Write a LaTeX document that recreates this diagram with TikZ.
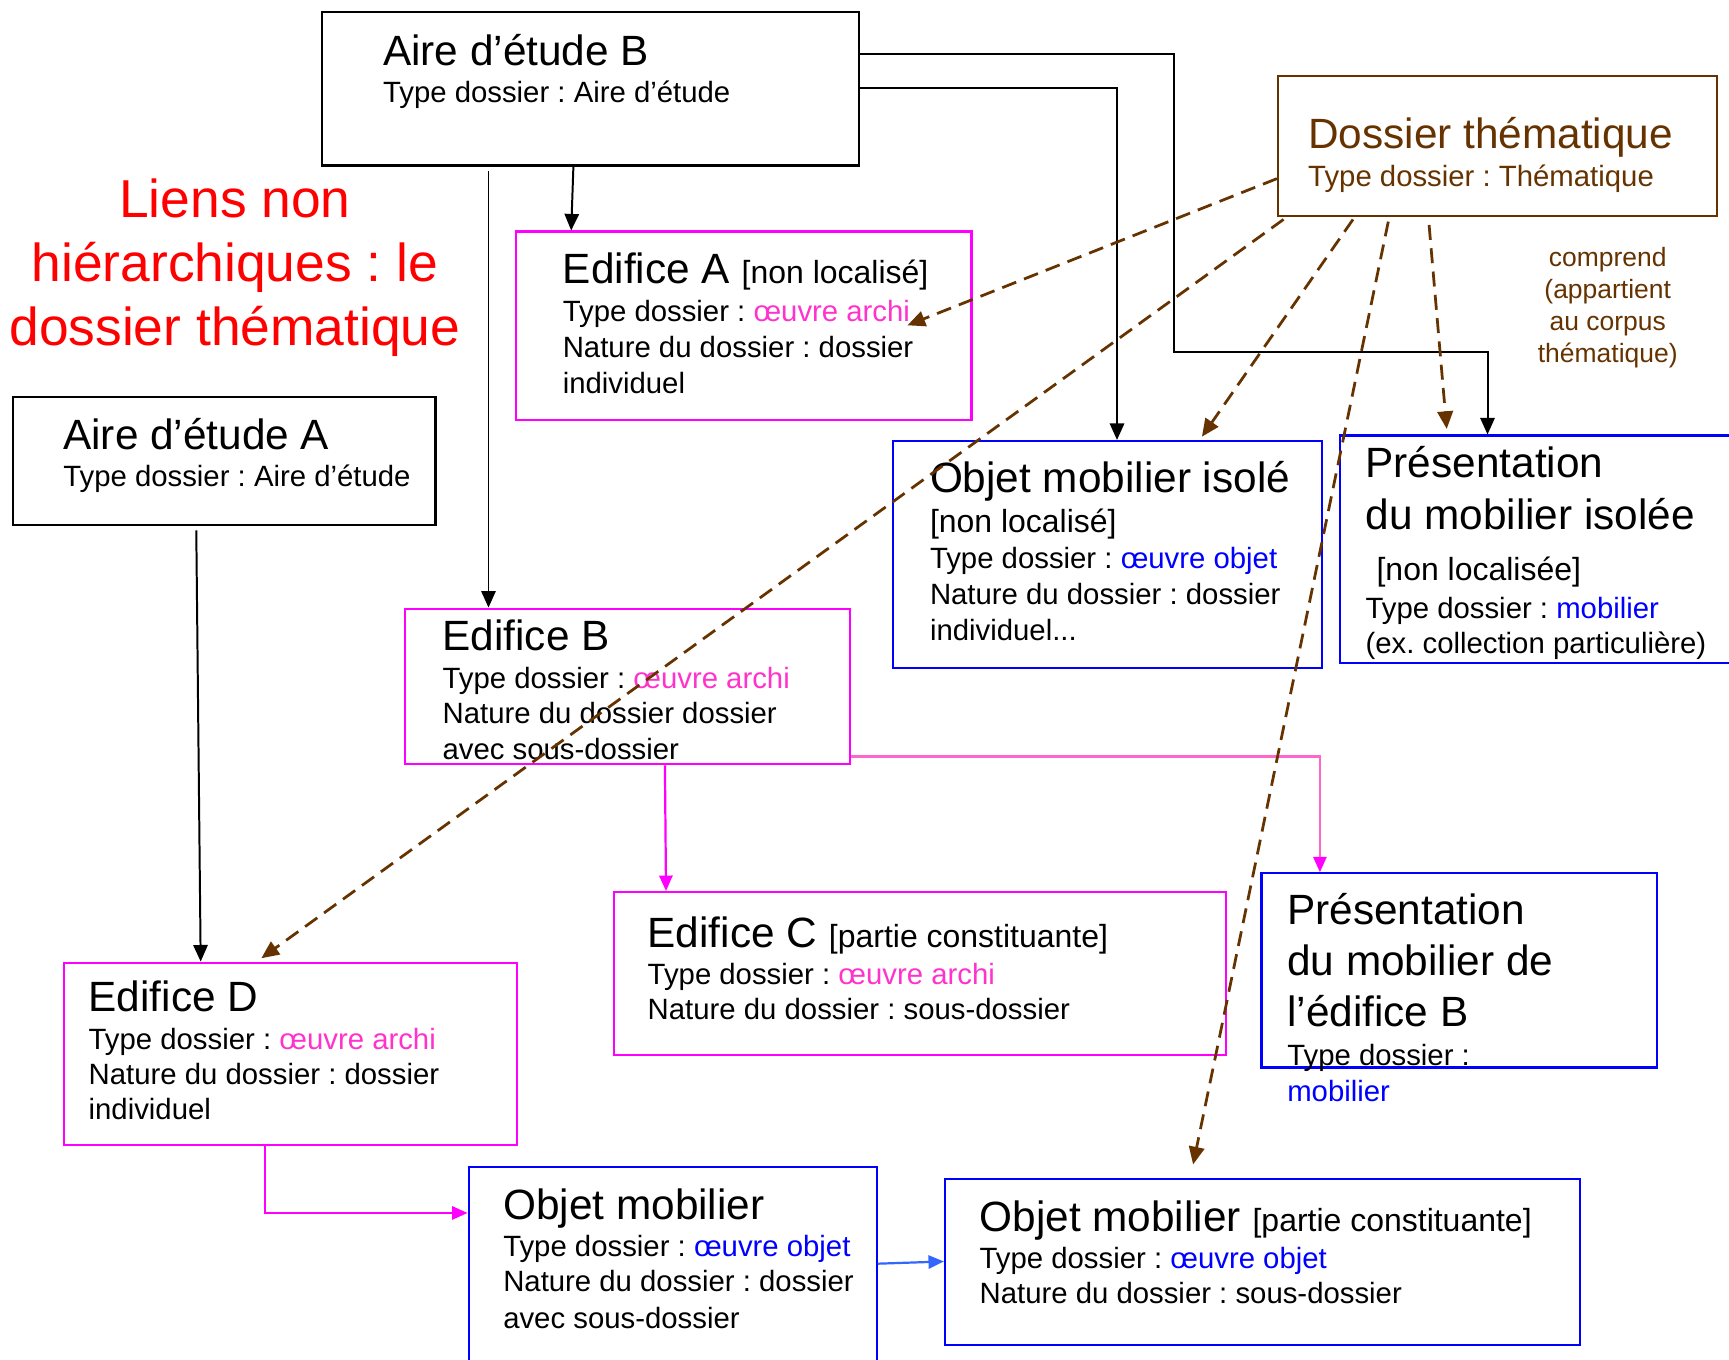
\documentclass[tikz,border=0pt]{standalone}
\usepackage{fontspec}
\setmainfont{Liberation Sans}
\usetikzlibrary{arrows.meta,calc,fit}
\definecolor{brun}{RGB}{102,51,0}
\definecolor{mag}{RGB}{255,0,255}
\definecolor{rose}{RGB}{255,51,204}
\definecolor{roseclair}{RGB}{255,102,204}
\definecolor{bleu}{RGB}{0,0,255}
\definecolor{bleuclair}{RGB}{51,102,255}
\definecolor{rouge}{RGB}{255,0,0}
\frenchspacing

\begin{document}
\begin{tikzpicture}[x=0.5pt,y=-0.5pt,
  cadre/.style={draw,line width=1pt,inner sep=0pt},
  titre/.style={anchor=base west,inner sep=0pt,font=\fontsize{19.2}{23}\selectfont},
  ligne/.style={anchor=base west,inner sep=0pt,font=\fontsize{13.3}{16}\selectfont},
  crochet/.style={anchor=base west,inner sep=0pt,font=\fontsize{14.5}{17}\selectfont},
  gros/.style={anchor=base,inner sep=0pt,rouge,font=\fontsize{24.2}{29}\selectfont},
  note/.style={anchor=base,inner sep=0pt,brun,font=\fontsize{12}{14.5}\selectfont},
  lien/.style={line width=0.9pt,-{Triangle[length=7.5pt,width=6.5pt]}},
  lienrose/.style={mag,line width=1pt,-{Triangle[length=7pt,width=6pt,color=mag]}},
  thm/.style={brun,line width=1.25pt,dash pattern=on 6.8pt off 3.8pt,-{Triangle[length=8pt,width=7pt]}}]
\useasboundingbox (0,0) rectangle (1568,1233);
\fill[white] (0,0) rectangle (1568,1233);
\clip (0,0) rectangle (1568,1233);

% cadres
\node[cadre, fit={(292,11) (779,150)}] (aireB) {};
\node[cadre, fit={(12,360) (395,476)}] (aireA) {};
\node[cadre, draw=brun, fit={(1159,69) (1557,196)}] (dossT) {};
\node[cadre, draw=mag, fit={(468,210) (881,381)}] (edA) {};
\node[cadre, draw=mag, fit={(367,552) (771,693)}] (edB) {};
\node[cadre, draw=bleu, fit={(810,400) (1199,606)}] (objIso) {};
\node[cadre, draw=bleu, fit={(1215,395) (1600,601)}] (presIso) {};
\node[cadre, draw=mag, fit={(557,809) (1112,957)}] (edC) {};
\node[cadre, draw=bleu, fit={(1144,792) (1503,968)}] (presB) {};
\node[cadre, draw=mag, fit={(58,873) (469,1038)}] (edD) {};
\node[cadre, draw=bleu, fit={(425,1058) (795,1260)}] (objMob) {};
\node[cadre, draw=bleu, fit={(857,1069) (1433,1220)}] (objPart) {};

% titre rouge
\node[gros] (tit1) at (213,197) {Liens non};
\node[gros] (tit2) at (213,255) {hiérarchiques : le};
\node[gros] (tit3) at (213,313) {dossier thématique};

% textes
\node[titre] (aB1) at (347,59) {Aire d’étude B};
\node[ligne] (aB2) at (347,92.5) {Type dossier : Aire d’étude};

\node[titre] (aA1) at (57,408) {Aire d’étude A};
\node[ligne] (aA2) at (57,441.5) {Type dossier : Aire d’étude};

\node[titre,brun] (dT1) at (1186,135) {Dossier thématique};
\node[ligne,brun] (dT2) at (1186,169.5) {Type dossier : Thématique};

\node[note] (c1) at (1458,242) {comprend};
\node[note] (c2) at (1458,271) {(appartient};
\node[note] (c3) at (1458,300) {au corpus};
\node[note] (c4) at (1458,329) {thématique)};

\node[titre] (eA1) at (510,257) {Edifice A {\fontsize{14.5}{17}\selectfont[non localisé]}};
\node[ligne] (eA2) at (510,291.5) {Type dossier : {\color{rose}œuvre archi}};
\node[ligne] (eA3) at (510,324.5) {Nature du dossier : dossier};
\node[ligne] (eA4) at (510,356.5) {individuel};

\node[titre] (eB1) at (401,590) {Edifice B};
\node[ligne] (eB2) at (401,624.5) {Type dossier : {\color{rose}œuvre archi}};
\node[ligne] (eB3) at (401,656.5) {Nature du dossier dossier};
\node[ligne] (eB4) at (401,688.5) {avec sous-dossier};

\node[titre] (oI1) at (843,447) {Objet mobilier isolé};
\node[crochet] (oI2) at (843,483) {[non localisé]};
\node[ligne] (oI3) at (843,515.5) {Type dossier : {\color{bleu}œuvre objet}};
\node[ligne] (oI4) at (843,548.5) {Nature du dossier : dossier};
\node[ligne] (oI5) at (843,580.5) {individuel...};

\node[titre] (pI1) at (1238,433) {Présentation};
\node[titre] (pI2) at (1238,480) {du mobilier isolée};
\node[crochet] (pI3) at (1248,526) {[non localisée]};
\node[ligne] (pI4) at (1238,560.5) {Type dossier : {\color{bleu}mobilier}};
\node[ligne] (pI5) at (1238,592.5) {(ex. collection particulière)};

\node[titre] (eC1) at (587,859) {Edifice C {\fontsize{14.5}{17}\selectfont[partie constituante]}};
\node[ligne] (eC2) at (587,892.5) {Type dossier : {\color{rose}œuvre archi}};
\node[ligne] (eC3) at (587,924.5) {Nature du dossier : sous-dossier};

\node[titre] (pB1) at (1167,838) {Présentation};
\node[titre] (pB2) at (1167,885) {du mobilier de};
\node[titre] (pB3) at (1167,931) {l’édifice B};
\node[ligne] (pB4) at (1167,966.5) {Type dossier :};
\node[ligne,bleu] (pB5) at (1167,998.5) {mobilier};

\node[titre] (eD1) at (80,917) {Edifice D};
\node[ligne] (eD2) at (80,951.5) {Type dossier : {\color{rose}œuvre archi}};
\node[ligne] (eD3) at (80,983.5) {Nature du dossier : dossier};
\node[ligne] (eD4) at (80,1015.5) {individuel};

\node[titre] (oM1) at (456,1106) {Objet mobilier};
\node[ligne] (oM2) at (456,1139.5) {Type dossier : {\color{bleu}œuvre objet}};
\node[ligne] (oM3) at (456,1171.5) {Nature du dossier : dossier};
\node[ligne] (oM4) at (456,1204.5) {avec sous-dossier};

\node[titre] (oP1) at (888,1117) {Objet mobilier {\fontsize{14.5}{17}\selectfont[partie constituante]}};
\node[ligne] (oP2) at (888,1150.5) {Type dossier : {\color{bleu}œuvre objet}};
\node[ligne] (oP3) at (888,1182.5) {Nature du dossier : sous-dossier};

% liens hierarchiques
\draw[lien] ($(aireB.south west)+(229,0)$) -- ($(edA.north west)+(51,0)$);
\draw[lien] ($(aireB.south west)+(152,4)$) -- ($(edB.north west)+(77,0)$);
\draw[lien] ($(aireB.north east)+(0,70)$) -| ($(objIso.north west)+(204,0)$);
\draw[lien] ($(aireB.north east)+(0,39)$) -| +(285,270) -| ($(presIso.north west)+(135,0)$);
\draw[lien] ($(aireA.south west)+(167,4)$) -- ($(edD.north west)+(125,0)$);
\draw[lienrose] ($(edB.south west)+(237,0)$) -- ($(edC.north west)+(48,0)$);
\draw[lienrose,roseclair] ($(edB.south east)+(0,-8)$) -| ($(presB.north west)+(54,0)$);
\draw[lienrose] ($(edD.south west)+(183,0)$) |- ($(objMob.north west)+(0,43)$);
\draw[bleuclair,line width=1pt,-{Triangle[length=7pt,width=6pt]}] ($(objMob.north east)+(0,89)$) -- ($(objPart.north west)+(0,76)$);

% liens thematiques
\draw[thm] ($(dossT.north west)+(0,94)$) -- ($(edA.north west)+(356,86)$);
\draw[thm] ($(dossT.south west)+(6,2)$) -- ($(edD.north west)+(180,-3)$);
\draw[thm] ($(dossT.south west)+(69,2)$) -- ($(objIso.north west)+(281,-3)$);
\draw[thm] ($(dossT.south west)+(101,4)$) -- ($(objPart.north west)+(226,-12)$);
\draw[thm] ($(dossT.south west)+(138,7)$) -- ($(presIso.north west)+(98,-5)$);
\end{tikzpicture}
\end{document}
